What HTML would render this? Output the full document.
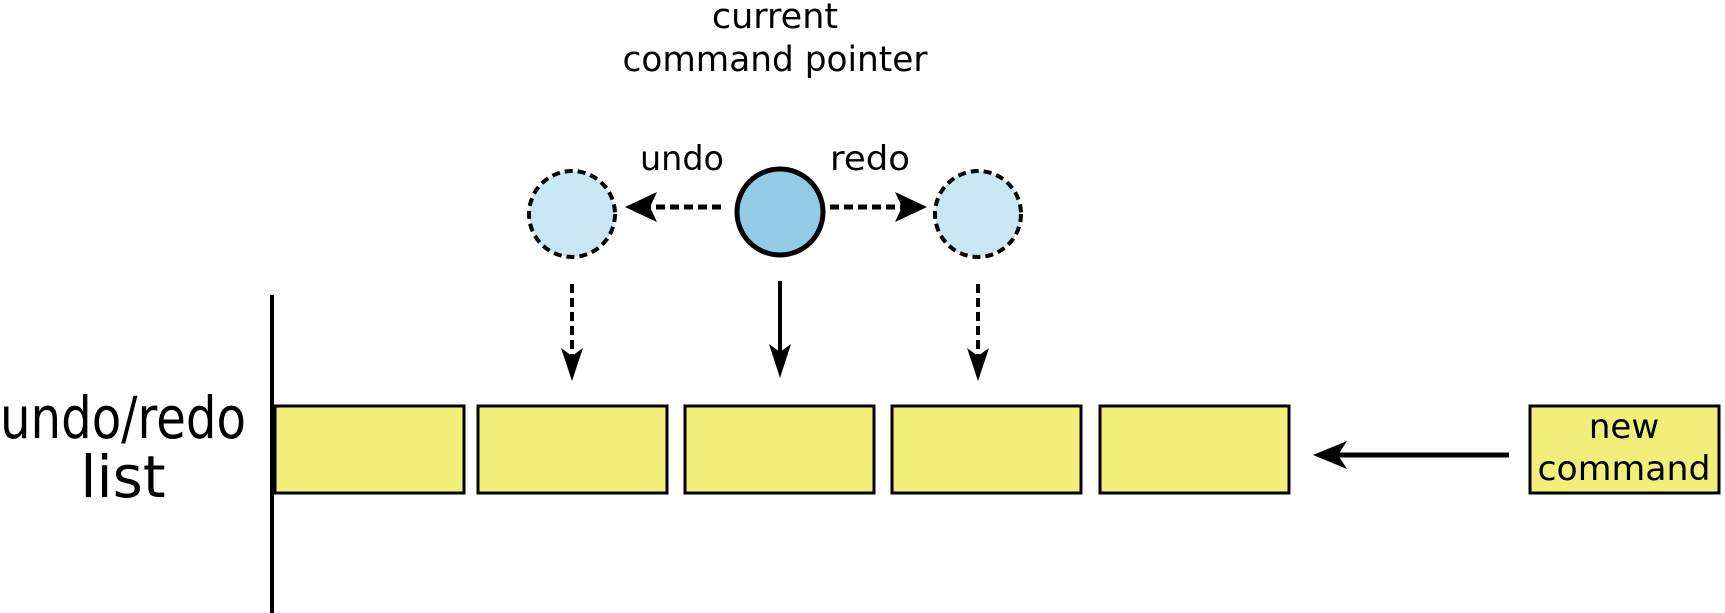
<!DOCTYPE html>
<html><head><meta charset="utf-8"><style>
html,body{margin:0;padding:0;background:#fff;}
svg{display:block;}
text{font-family:"DejaVu Sans","Liberation Sans",sans-serif;fill:#000;}
</style></head><body>
<svg width="1725" height="613" viewBox="0 0 1725 613" xmlns="http://www.w3.org/2000/svg">
<text x="775" y="28" font-size="35" text-anchor="middle">current</text>
<text x="775" y="71" font-size="35" text-anchor="middle" textLength="305" lengthAdjust="spacingAndGlyphs">command pointer</text>
<text x="682" y="170" font-size="34" text-anchor="middle" textLength="84" lengthAdjust="spacingAndGlyphs">undo</text>
<text x="870" y="170" font-size="34" text-anchor="middle" textLength="80" lengthAdjust="spacingAndGlyphs">redo</text>

<circle cx="572" cy="214" r="43" fill="#c8e7f3" stroke="#000" stroke-width="4" stroke-dasharray="8,5"/>
<circle cx="978" cy="214" r="43" fill="#c8e7f3" stroke="#000" stroke-width="4" stroke-dasharray="8,5"/>
<circle cx="780" cy="212" r="43" fill="#93cbe6" stroke="#000" stroke-width="5"/>

<line x1="721" y1="207" x2="650" y2="207" stroke="#000" stroke-width="5" stroke-dasharray="9,5"/>
<polygon points="625,207 657,192 650,207 657,222" fill="#000"/>
<line x1="830" y1="207" x2="902" y2="207" stroke="#000" stroke-width="5" stroke-dasharray="9,5"/>
<polygon points="927,207 895,192 902,207 895,222" fill="#000"/>

<line x1="572" y1="284" x2="572" y2="356" stroke="#000" stroke-width="4" stroke-dasharray="9,5"/>
<polygon points="572,381 561,348 572,356 583,348" fill="#000"/>
<line x1="780" y1="281" x2="780" y2="352" stroke="#000" stroke-width="4"/>
<polygon points="780,378 769,344 780,352 791,344" fill="#000"/>
<line x1="978" y1="284" x2="978" y2="356" stroke="#000" stroke-width="4" stroke-dasharray="9,5"/>
<polygon points="978,381 967,348 978,356 989,348" fill="#000"/>

<line x1="272" y1="295" x2="272" y2="613" stroke="#000" stroke-width="4"/>
<text x="123" y="438" font-size="58" text-anchor="middle" textLength="246" lengthAdjust="spacingAndGlyphs">undo/redo</text>
<text x="123" y="497" font-size="58" text-anchor="middle">list</text>

<g fill="#f2ee7a" stroke="#000" stroke-width="3">
<rect x="275" y="406" width="189" height="87"/>
<rect x="478" y="406" width="189" height="87"/>
<rect x="685" y="406" width="189" height="87"/>
<rect x="892" y="406" width="189" height="87"/>
<rect x="1100" y="406" width="189" height="87"/>
<rect x="1530" y="406" width="189" height="87"/>
</g>
<line x1="1509" y1="455" x2="1330" y2="455" stroke="#000" stroke-width="5"/>
<polygon points="1313,455 1347,441 1338,455 1347,469" fill="#000"/>
<text x="1624" y="438" font-size="34" text-anchor="middle">new</text>
<text x="1624" y="480" font-size="34" text-anchor="middle" textLength="173" lengthAdjust="spacingAndGlyphs">command</text>
</svg>
</body></html>
